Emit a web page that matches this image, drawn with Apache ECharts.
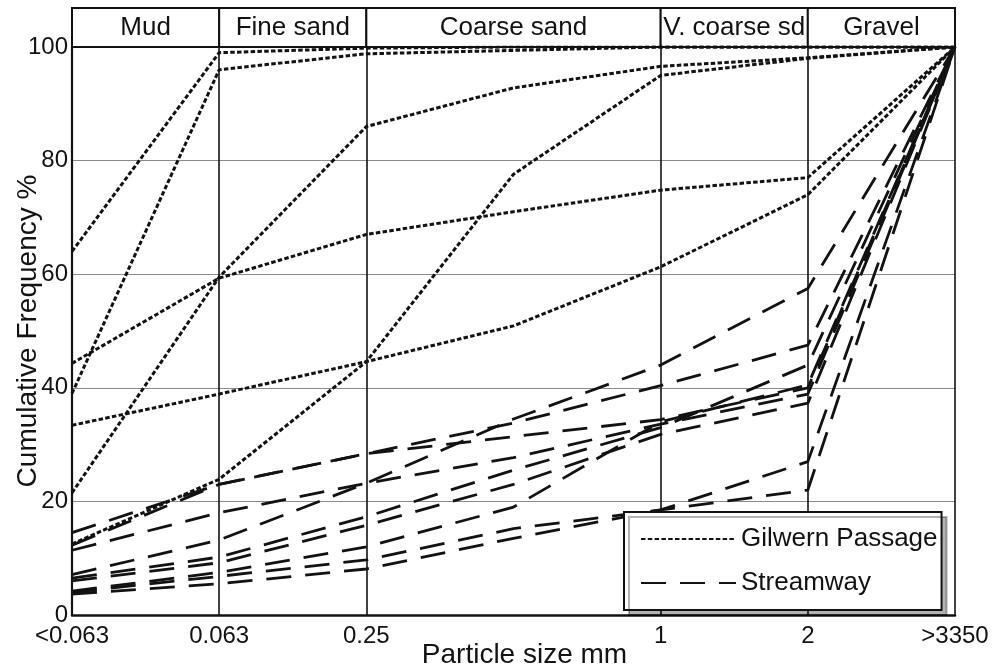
<!DOCTYPE html>
<html>
<head>
<meta charset="utf-8">
<script src="https://cdn.jsdelivr.net/npm/echarts@6/dist/echarts.min.js"></script>
<style>
  html, body { margin: 0; padding: 0; background: #fff; }
  #chart { width: 998px; height: 671px; }
</style>
</head>
<body>
<div id="chart"></div>
<script>
// Sieve classes (particle size, mm) along the x axis
const sizeClasses = ['<0.063', '0.063', '0.25', '0.5', '1', '2', '>3350'];
// Sieve sizes plotted without a tick label
const unlabeledSizes = ['0.5'];
// Sieve sizes that carry a vertical class boundary
const boundarySizes = ['0.063', '0.25', '1', '2', '>3350'];

// Sediment class bands across the top
const bandNames = ['Mud', 'Fine sand', 'Coarse sand', 'V. coarse sd', 'Gravel'];
const bandFrom  = ['<0.063', '0.063', '0.25', '1', '2'];
const bandTo    = ['0.063', '0.25', '1', '2', '>3350'];

// Cumulative frequency (%) per sample, Gilwern Passage
const gilwern1 = [64, 99, 99.8, 100, 100, 100, 100];
const gilwern2 = [39, 96, 98.8, 99.4, 100, 100, 100];
const gilwern3 = [44.3, 59.3, 67, 71, 74.8, 77, 100];
const gilwern4 = [21.5, 59.5, 86, 92.8, 96.6, 98.1, 100];
const gilwern5 = [33.4, 38.9, 44.6, 50.9, 61.3, 74, 100];
const gilwern6 = [12.5, 23.9, 44.6, 77.6, 95, 98, 100];

// Cumulative frequency (%) per sample, Streamway
const stream1 = [14.5, 23, 28.4, 33.8, 40.4, 47.5, 100];
const stream2 = [12.3, 23, 28.4, 31.4, 34.4, 40, 100];
const stream3 = [11.4, 18, 23.2, 27.7, 33.6, 38.9, 100];
const stream4 = [7.1, 13.2, 23.2, 34.5, 44, 57.5, 100];
const stream5 = [6.5, 10.2, 17.3, 25.5, 33, 44, 100];
const stream6 = [6.0, 9.2, 15.8, 23, 31.8, 37.3, 100];
const stream7 = [4.2, 7.5, 12, 19, 34, 40.5, 100];
const stream8 = [4.0, 6.8, 9.7, 15.2, 18.5, 27, 100];
const stream9 = [3.7, 5.5, 8.1, 13.5, 18.5, 22, 100];

const gilwernSamples = [gilwern1, gilwern2, gilwern3, gilwern4, gilwern5, gilwern6];
const streamSamples = [stream1, stream2, stream3, stream4, stream5, stream6, stream7, stream8, stream9];

const yTicks = { min: 0, max: 100, interval: 20 };

const FONT = 'Liberation Sans, Arial, Helvetica, sans-serif';
const INK = '#121212';

const chart = echarts.init(document.getElementById('chart'), null, { renderer: 'canvas' });

const sampleSeries = [];
gilwernSamples.forEach(function (values) {
  sampleSeries.push({
    name: 'Gilwern Passage',
    type: 'line',
    xAxisIndex: 0, yAxisIndex: 0,
    data: values,
    symbol: 'none',
    silent: true,
    lineStyle: { color: INK, width: 3, type: [4.5, 2.3] },
    itemStyle: { color: INK },
    z: 3
  });
});
streamSamples.forEach(function (values) {
  sampleSeries.push({
    name: 'Streamway',
    type: 'line',
    xAxisIndex: 0, yAxisIndex: 0,
    data: values,
    symbol: 'none',
    silent: true,
    lineStyle: { color: INK, width: 2.8, type: [25, 14] },
    itemStyle: { color: INK },
    z: 3
  });
});

// Header row of sediment classes, drawn as marked areas on its own grid
const bandSeries = {
  type: 'line',
  xAxisIndex: 1, yAxisIndex: 1,
  data: [],
  silent: true,
  markArea: {
    silent: true,
    itemStyle: { color: '#fff', borderColor: INK, borderWidth: 2 },
    label: { show: true, position: 'inside', color: INK, fontSize: 26, fontFamily: FONT },
    data: bandNames.map(function (name, i) {
      return [
        { name: name, xAxis: bandFrom[i], yAxis: 0 },
        { xAxis: bandTo[i], yAxis: 1 }
      ];
    })
  }
};

chart.setOption({
  animation: false,
  backgroundColor: '#fff',
  grid: [
    { left: 72, right: 43, top: 47, bottom: 56, outerBoundsMode: 'none', containLabel: false },
    { left: 72, right: 43, top: 8, height: 39, outerBoundsMode: 'none', containLabel: false }
  ],
  xAxis: [
    {
      gridIndex: 0,
      type: 'category',
      data: sizeClasses,
      boundaryGap: false,
      name: 'Particle size mm',
      nameLocation: 'middle',
      nameGap: 26,
      nameMoveOverlap: false,
      nameTextStyle: { fontSize: 28, color: INK, fontFamily: FONT, verticalAlign: 'top', padding: [0, 0, 0, 22] },
      axisLine: { show: true, lineStyle: { color: INK, width: 2.5 } },
      axisTick: { show: false },
      axisLabel: {
        interval: 0,
        margin: 9,
        fontSize: 24,
        color: INK,
        fontFamily: FONT,
        formatter: function (v) { return unlabeledSizes.indexOf(v) >= 0 ? '' : v; }
      },
      splitLine: {
        show: true,
        interval: function (index) { return boundarySizes.indexOf(sizeClasses[index]) >= 0; },
        lineStyle: { color: INK, width: 1.6 }
      }
    },
    {
      gridIndex: 1,
      type: 'category',
      data: sizeClasses,
      boundaryGap: false,
      show: false
    }
  ],
  yAxis: [
    {
      gridIndex: 0,
      type: 'value',
      min: yTicks.min,
      max: yTicks.max,
      interval: yTicks.interval,
      name: 'Cumulative Frequency %',
      nameLocation: 'middle',
      nameGap: 30,
      nameMoveOverlap: false,
      nameTextStyle: { fontSize: 28, color: INK, fontFamily: FONT },
      axisLine: { show: true, lineStyle: { color: INK, width: 2.2 } },
      axisTick: { show: false },
      axisLabel: { margin: 4, fontSize: 24, color: INK, fontFamily: FONT },
      splitLine: { show: true, lineStyle: { color: '#8a8a8a', width: 1.2 } }
    },
    {
      gridIndex: 1,
      type: 'value',
      min: 0,
      max: 1,
      show: false
    }
  ],
  legend: {
    data: ['Gilwern Passage', 'Streamway'],
    orient: 'vertical',
    left: 624,
    top: 512,
    padding: [14, 4, 14, 16],
    itemWidth: 95,
    itemHeight: 20,
    itemGap: 18,
    backgroundColor: '#fff',
    borderColor: INK,
    borderWidth: 2,
    borderRadius: 0,
    shadowColor: 'rgba(0,0,0,0.3)',
    shadowBlur: 0,
    shadowOffsetX: 5,
    shadowOffsetY: 5,
    selectedMode: false,
    itemStyle: { color: 'rgba(0,0,0,0)', borderWidth: 0, opacity: 0 },
    textStyle: { fontSize: 26, color: INK, fontFamily: FONT }
  },
  series: sampleSeries.concat([bandSeries])
});
</script>
</body>
</html>
